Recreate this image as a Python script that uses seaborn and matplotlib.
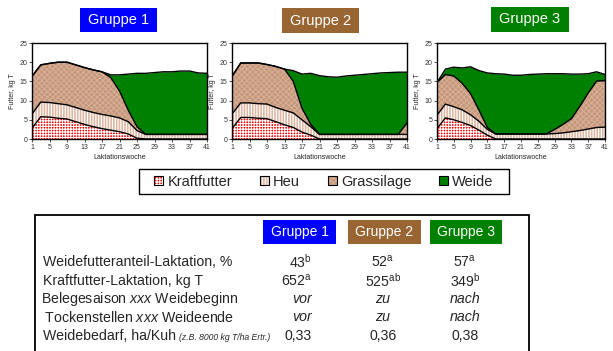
import matplotlib
matplotlib.use("Agg")
import matplotlib.pyplot as plt
import seaborn as sns
import numpy as np
from matplotlib.patches import Rectangle, Patch

# ---------------- data ----------------
weeks = list(range(1, 42, 2))
groups = ["Gruppe 1", "Gruppe 2", "Gruppe 3"]
group_colors = ["#0000FF", "#996633", "#008000"]
feeds = ["Kraftfutter", "Heu", "Grassilage", "Weide"]

kraft_g1 = [2.8, 5.8, 5.7, 5.4, 5.2, 4.5, 3.8, 3.2, 2.7, 2.3, 1.9, 1.3, 0.2, 0, 0, 0, 0, 0, 0, 0, 0]
heu_g1 = [3.7, 3.8, 3.8, 3.8, 3.7, 3.7, 3.7, 3.7, 3.7, 3.7, 3.6, 3.2, 2.0, 1.2, 1.2, 1.2, 1.2, 1.2, 1.2, 1.2, 1.2]
gras_g1 = [9.8, 9.7, 10.2, 10.8, 11.1, 11.1, 11.1, 11.1, 11.1, 10.0, 7.0, 3.0, 1.0, 0, 0, 0, 0, 0, 0, 0, 0]
weide_g1 = [0, 0, 0, 0, 0, 0, 0, 0, 0, 0.7, 4.2, 9.4, 13.9, 15.9, 16.1, 16.3, 16.3, 16.5, 16.5, 16.0, 15.9]

kraft_g2 = [2.7, 5.6, 5.6, 5.4, 5.3, 4.5, 3.7, 3.0, 1.8, 1.0, 0, 0, 0, 0, 0, 0, 0, 0, 0, 0, 0]
heu_g2 = [3.8, 3.8, 3.8, 3.8, 3.8, 3.7, 3.8, 3.8, 3.2, 2.2, 1.2, 1.2, 1.2, 1.2, 1.2, 1.2, 1.2, 1.2, 1.2, 1.2, 1.2]
gras_g2 = [9.8, 10.4, 10.4, 10.6, 10.3, 10.7, 10.7, 8.2, 3.0, 0.6, 0, 0, 0, 0, 0, 0, 0, 0, 0, 0, 3.0]
weide_g2 = [0, 0, 0, 0, 0, 0, 0, 2.8, 8.9, 13.3, 15.3, 15.0, 14.9, 15.2, 15.4, 15.6, 15.8, 16.0, 16.1, 16.2, 13.2]

kraft_g3 = [2.7, 5.5, 5.0, 4.3, 3.5, 2.3, 1.0, 0, 0, 0, 0, 0, 0, 0, 0, 0, 0, 0, 0, 0, 0]
heu_g3 = [3.5, 3.6, 3.4, 3.3, 2.8, 2.3, 1.5, 1.3, 1.3, 1.3, 1.3, 1.3, 1.3, 1.3, 1.4, 1.6, 1.9, 2.2, 2.6, 3.0, 3.1]
gras_g3 = [8.5, 7.7, 8.0, 6.9, 5.5, 2.9, 0.5, 0, 0, 0, 0, 0, 0, 0, 1.1, 2.2, 3.4, 6.3, 9.4, 12.1, 12.1]
weide_g3 = [0, 1.4, 2.3, 4.0, 7.0, 10.3, 14.2, 15.7, 15.6, 15.3, 15.3, 15.5, 15.6, 15.7, 14.5, 13.2, 11.6, 8.4, 5.0, 2.4, 1.6]

x_ticks = list(range(1, 42, 4))
y_ticks = [0, 5, 10, 15, 20, 25]

row_labels = ["Weidefutteranteil-Laktation, %",
              "Kraftfutter-Laktation, kg T",
              r"Belegesaison $\mathit{xxx}$ Weidebeginn",
              r" Tockenstellen $\mathit{xxx}$ Weideende",
              "Weidebedarf, ha/Kuh"]
row5_note = "(z.B. 8000 kg T/ha Ertr.)"
weide_anteil = [43, 52, 57]
weide_sig = ["b", "a", "a"]
kraft_lakt = [652, 525, 349]
kraft_sig = ["a", "ab", "b"]
belegesaison = ["vor", "zu", "nach"]
trockenstellen = ["vor", "zu", "nach"]
weidebedarf = ["0,33", "0,36", "0,38"]

# ---------------- style ----------------
sns.set_style("white")
plt.rcParams["font.family"] = ["Liberation Sans", "DejaVu Sans"]
plt.rcParams["mathtext.fontset"] = "custom"
plt.rcParams["mathtext.rm"] = "Liberation Sans"
plt.rcParams["mathtext.it"] = "Liberation Sans:italic"
plt.rcParams["hatch.linewidth"] = 0.8

W, H = 613, 351
fig = plt.figure(figsize=(W / 100, H / 100), dpi=100)
fig.patch.set_facecolor("white")


def fx(px):
    return px / W


def fy(py):
    return 1 - py / H


def box(x0, y0, x1, y1, **kw):
    r = Rectangle((fx(x0), fy(y1)), (x1 - x0) / W, (y1 - y0) / H,
                  transform=fig.transFigure, **kw)
    fig.add_artist(r)
    return r


layer_face = ["#FF0000", "#DDB8A4", "#C4967A", "#008000"]
layer_hatch_col = ["white", "white", "#D6AE95", "#008000"]
layer_hatch = ["++++++", "||||||", "xxxxxx", None]

data = [
    (kraft_g1, heu_g1, gras_g1, weide_g1),
    (kraft_g2, heu_g2, gras_g2, weide_g2),
    (kraft_g3, heu_g3, gras_g3, weide_g3),
]
ax_lefts = [32, 232, 437]
ax_widths = [175, 175, 168]
title_boxes = [(80, 8, 157, 32), (282, 8, 359, 33), (491, 7, 569, 32)]

for i, (layers, left) in enumerate(zip(data, ax_lefts)):
    ax = fig.add_axes([fx(left), fy(139), ax_widths[i] / W, 96 / H])
    polys = ax.stackplot(weeks, *layers, colors=layer_face, hatch=layer_hatch)
    for p, hc in zip(polys, layer_hatch_col):
        p.set_edgecolor(hc)
        p.set_linewidth(0)
    cum = np.cumsum(np.array(layers, dtype=float), axis=0)
    for c in cum:
        sns.lineplot(x=weeks, y=c, ax=ax, color="black", linewidth=1.0, legend=False)
    ax.set_xlim(1, 41)
    ax.set_ylim(0, 25)
    ax.set_xticks(x_ticks)
    ax.set_yticks(y_ticks)
    ax.tick_params(axis="both", labelsize=5, length=2, width=0.6, colors="#333333",
                   direction="out", bottom=True, left=True, pad=1.5)
    for s in ax.spines.values():
        s.set_color("black")
        s.set_linewidth(1.0)
    ax.set_xlabel("Laktationswoche", fontsize=5, labelpad=2, color="#222222")
    ax.set_ylabel("Futter, kg T", fontsize=5, labelpad=2, color="#222222")
    # group title box
    x0, y0, x1, y1 = title_boxes[i]
    box(x0, y0, x1, y1, facecolor=group_colors[i], edgecolor="none")
    fig.text(fx((x0 + x1) / 2), fy((y0 + y1) / 2), groups[i], color="white",
             fontsize=10.5, ha="center", va="center")

# ---------------- legend ----------------
handles = []
for face, hc, ht in zip(layer_face, layer_hatch_col, layer_hatch):
    handles.append((Patch(facecolor=face, edgecolor=hc, hatch=ht, linewidth=0),
                    Patch(facecolor="none", edgecolor="black", linewidth=0.8)))
box(139, 169, 509, 194, facecolor="none", edgecolor="black", linewidth=1.0)
fig.legend(handles, feeds, loc="center", bbox_to_anchor=(fx(324), fy(181.5)),
           ncol=4, frameon=False, fontsize=10.5, handlelength=0.6, handleheight=0.6,
           handletextpad=0.3, columnspacing=1.9, borderpad=0.2)

# ---------------- table ----------------
box(35, 215, 529, 380, facecolor="none", edgecolor="black", linewidth=1.3)
hdr = [(263, 220, 336, 244), (348, 220, 421, 244), (430, 220, 502, 244)]
for (x0, y0, x1, y1), g, c in zip(hdr, groups, group_colors):
    box(x0, y0, x1, y1, facecolor=c, edgecolor="none")
    fig.text(fx((x0 + x1) / 2), fy((y0 + y1) / 2), g, color="white",
             fontsize=10, ha="center", va="center")

row_y = [262, 281, 299, 317, 336]
row_x = [43, 43, 41, 41, 43]
fs = 10.2
for lab, x, y in zip(row_labels, row_x, row_y):
    fig.text(fx(x), fy(y), lab, fontsize=fs, ha="left", va="center")
fig.text(fx(179), fy(337), row5_note, fontsize=6.2, style="italic",
         ha="left", va="center")

col_x = [312, 383, 465]
col_ha = ["right", "center", "center"]
for j in range(3):
    vals = [f"{weide_anteil[j]}$^{{\\mathrm{{{weide_sig[j]}}}}}$",
            f"{kraft_lakt[j]}$^{{\\mathrm{{{kraft_sig[j]}}}}}$",
            belegesaison[j], trockenstellen[j], weidebedarf[j]]
    for k, (v, y) in enumerate(zip(vals, row_y)):
        fig.text(fx(col_x[j]), fy(y), v, fontsize=fs, ha=col_ha[j], va="center",
                 style="italic" if k in (2, 3) else "normal")

fig.savefig("out.png", dpi=100)
